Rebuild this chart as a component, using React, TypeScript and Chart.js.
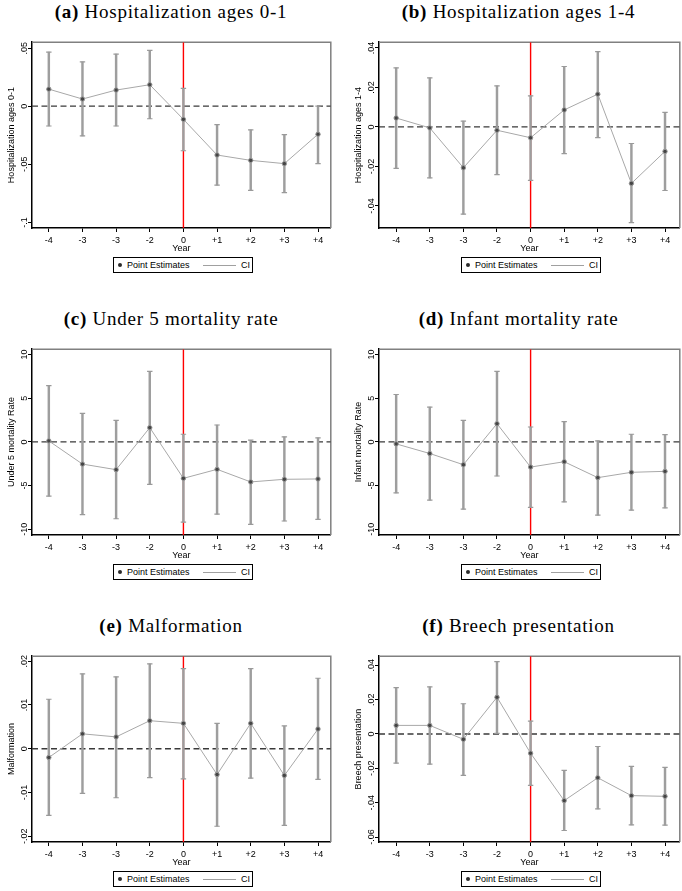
import React, { useEffect, useRef } from 'react';
import { Chart, registerables } from 'chart.js';

Chart.register(...registerables);
Chart.defaults.font.family = '"Liberation Sans", Arial, Helvetica, sans-serif';

// ---------- data ----------
const yearLabels = ['-4', '-3', '-3', '-2', '0', '+1', '+2', '+3', '+4'];

// (a) Hospitalization ages 0-1
const hospA_est = [0.0147, 0.0062, 0.0139, 0.0185, -0.0113, -0.042, -0.0466, -0.0494, -0.0241];
const hospA_lo = [-0.017, -0.0256, -0.017, -0.0108, -0.0383, -0.0679, -0.0724, -0.0744, -0.0494];
const hospA_hi = [0.0466, 0.0381, 0.0449, 0.048, 0.0153, -0.0159, -0.0204, -0.0244, 0.0];
const hospA_ticks = [-0.1, -0.05, 0, 0.05];

// (b) Hospitalization ages 1-4
const hospB_est = [0.0045, -0.0005, -0.0207, -0.0017, -0.0055, 0.0086, 0.0166, -0.0286, -0.0124];
const hospB_lo = [-0.021, -0.0258, -0.0442, -0.0242, -0.0271, -0.0135, -0.0054, -0.0485, -0.0322];
const hospB_hi = [0.0299, 0.0248, 0.0029, 0.0208, 0.0157, 0.0306, 0.0381, -0.0084, 0.0074];
const hospB_ticks = [-0.04, -0.02, 0, 0.02, 0.04];

// (c) Under 5 mortality rate
const u5_est = [0.11, -2.54, -3.18, 1.63, -4.17, -3.14, -4.58, -4.28, -4.24];
const u5_lo = [-6.2, -8.33, -8.79, -4.85, -9.17, -8.26, -9.43, -9.05, -8.86];
const u5_hi = [6.44, 3.26, 2.46, 8.07, 0.87, 1.93, 0.19, 0.57, 0.45];
const u5_ticks = [-10, -5, 0, 5, 10];

// (d) Infant mortality rate
const inf_est = [-0.23, -1.33, -2.61, 2.08, -2.88, -2.27, -4.09, -3.48, -3.37];
const inf_lo = [-5.83, -6.67, -7.69, -3.9, -7.5, -6.86, -8.37, -7.8, -7.54];
const inf_hi = [5.42, 3.98, 2.46, 8.07, 1.7, 2.31, 0.11, 0.87, 0.83];
const inf_ticks = [-10, -5, 0, 5, 10];

// (e) Malformation
const malf_est = [-0.002, 0.0034, 0.0027, 0.0064, 0.0058, -0.0059, 0.0058, -0.0061, 0.0045];
const malf_lo = [-0.0152, -0.0102, -0.0112, -0.0066, -0.0069, -0.0177, -0.0067, -0.0175, -0.007];
const malf_hi = [0.0113, 0.0171, 0.0164, 0.0194, 0.0183, 0.0058, 0.0183, 0.0052, 0.0161];
const malf_ticks = [-0.02, -0.01, 0, 0.01, 0.02];

// (f) Breech presentation
const breech_est = [0.005, 0.005, -0.0031, 0.0214, -0.0112, -0.0388, -0.0255, -0.0359, -0.0363];
const breech_lo = [-0.017, -0.0176, -0.0241, 0.0004, -0.0299, -0.0562, -0.0436, -0.0529, -0.0531];
const breech_hi = [0.027, 0.0274, 0.0176, 0.0421, 0.0075, -0.0212, -0.0073, -0.0189, -0.0195];
const breech_ticks = [-0.06, -0.04, -0.02, 0, 0.02, 0.04];

// ---------- helpers ----------
const fmtTick = (v: number): string => {
  if (Math.abs(v) < 1e-12) return '0';
  const s = String(Number(v.toFixed(6)));
  return s.replace(/^(-?)0\./, '$1.');
};

const framePlugin = {
  id: 'frame',
  beforeDatasetsDraw(chart: any) {
    const { ctx, chartArea } = chart;
    const { left, top, right, bottom } = chartArea;
    ctx.save();
    ctx.strokeStyle = '#808080';
    ctx.lineWidth = 1.5;
    ctx.beginPath();
    ctx.moveTo(left, top);
    ctx.lineTo(right, top);
    ctx.lineTo(right, bottom);
    ctx.stroke();
    ctx.restore();
  },
};

type Spec = {
  letter: string;
  title: string;
  yTitle: string;
  est: number[];
  lo: number[];
  hi: number[];
  yTicks: number[];
  yMin: number;
  yMax: number;
  tickPad: number;
  col: number;
  row: number;
};

const COLS = [
  { left: 0, plotLeft: 32, plotRight: 333, xMin: -0.5, xMax: 8.38, titleCenter: 171, titlePad: 6.5 },
  { left: 341, plotLeft: 379, plotRight: 682, xMin: -0.511, xMax: 8.44, titleCenter: 518.5, titlePad: 12 },
];
const ROWS = [
  { plotTop: 41, plotBottom: 228, titleBase: 17.5 },
  { plotTop: 348, plotBottom: 535, titleBase: 325 },
  { plotTop: 655, plotBottom: 842, titleBase: 631.7 },
];

const specs: Spec[] = [
  { letter: '(a)', title: 'Hospitalization ages 0-1', yTitle: 'Hospitalization ages 0-1', est: hospA_est, lo: hospA_lo, hi: hospA_hi, yTicks: hospA_ticks, yMin: -0.1048, yMax: 0.0551, tickPad: -4.25, col: 0, row: 0 },
  { letter: '(b)', title: 'Hospitalization ages 1-4', yTitle: 'Hospitalization ages 1-4', est: hospB_est, lo: hospB_lo, hi: hospB_hi, yTicks: hospB_ticks, yMin: -0.0512, yMax: 0.0429, tickPad: -4, col: 1, row: 0 },
  { letter: '(c)', title: 'Under 5 mortality rate', yTitle: 'Under 5 mortality Rate', est: u5_est, lo: u5_lo, hi: u5_hi, yTicks: u5_ticks, yMin: -10.65, yMax: 10.6, tickPad: -3, col: 0, row: 1 },
  { letter: '(d)', title: 'Infant mortality rate', yTitle: 'Infant mortality Rate', est: inf_est, lo: inf_lo, hi: inf_hi, yTicks: inf_ticks, yMin: -10.65, yMax: 10.6, tickPad: -3, col: 1, row: 1 },
  { letter: '(e)', title: 'Malformation', yTitle: 'Malformation', est: malf_est, lo: malf_lo, hi: malf_hi, yTicks: malf_ticks, yMin: -0.0213, yMax: 0.02113, tickPad: -4.25, col: 0, row: 2 },
  { letter: '(f)', title: 'Breech presentation', yTitle: 'Breech presentation', est: breech_est, lo: breech_lo, hi: breech_hi, yTicks: breech_ticks, yMin: -0.0629, yMax: 0.0453, tickPad: -4, col: 1, row: 2 },
];

const PAD_TOP = 4;
const PAD_RIGHT = 3;
const X_AXIS_H = 26;

function Panel({ spec }: { spec: Spec }) {
  const ref = useRef<HTMLCanvasElement>(null);
  const col = COLS[spec.col];
  const row = ROWS[spec.row];
  const cw = col.plotRight - col.left + PAD_RIGHT;
  const ch = row.plotBottom - row.plotTop + PAD_TOP + X_AXIS_H;

  useEffect(() => {
    const idx = spec.est.map((_, i) => i);
    const chart = new Chart(ref.current as HTMLCanvasElement, {
      type: 'line',
      data: {
        datasets: [
          {
            type: 'line',
            label: 'Point Estimates',
            data: idx.map((i) => ({ x: i, y: spec.est[i] })),
            borderColor: '#a8a8a8',
            borderWidth: 1,
            pointRadius: 2.2,
            pointBackgroundColor: '#454545',
            pointBorderColor: '#999999',
            pointBorderWidth: 1,
            tension: 0,
            order: 0,
          } as any,
          {
            type: 'line',
            label: 'CI caps',
            data: [
              ...idx.map((i) => ({ x: i, y: spec.lo[i] })),
              ...idx.map((i) => ({ x: i, y: spec.hi[i] })),
            ],
            showLine: false,
            pointStyle: 'line',
            pointRadius: 2.7,
            pointBorderColor: '#9a9a9a',
            pointBorderWidth: 1.2,
            order: 1,
          } as any,
          {
            type: 'bar',
            label: 'CI',
            data: idx.map((i) => ({ x: i, y: [spec.lo[i], spec.hi[i]] })),
            backgroundColor: '#9e9e9e',
            barThickness: 1.8,
            order: 2,
          } as any,
          {
            type: 'line',
            label: 'Year 0',
            data: [
              { x: 4, y: spec.yMin },
              { x: 4, y: spec.yMax },
            ],
            borderColor: '#ff0000',
            borderWidth: 1.4,
            pointRadius: 0,
            order: 3,
          } as any,
          {
            type: 'line',
            label: 'Zero',
            data: [
              { x: col.xMin, y: 0 },
              { x: col.xMax, y: 0 },
            ],
            borderColor: '#3a3a3a',
            borderWidth: 1.3,
            borderDash: [6, 3.5],
            pointRadius: 0,
            order: 4,
          } as any,
        ],
      },
      options: {
        responsive: false,
        maintainAspectRatio: false,
        animation: false,
        devicePixelRatio: 1,
        events: [],
        layout: { padding: { top: PAD_TOP, right: PAD_RIGHT, left: 0, bottom: 0 } },
        plugins: {
          legend: { display: false },
          tooltip: { enabled: false },
          title: { display: false },
        },
        scales: {
          x: {
            type: 'linear',
            min: col.xMin,
            max: col.xMax,
            offset: false,
            afterBuildTicks: (s: any) => {
              s.ticks = idx.map((v) => ({ value: v }));
            },
            afterFit: (s: any) => {
              s.height = X_AXIS_H;
            },
            ticks: {
              autoSkip: false,
              maxRotation: 0,
              minRotation: 0,
              padding: 3,
              color: '#000',
              font: { size: 9 },
              callback: (v: any) => yearLabels[Math.round(Number(v))],
            },
            grid: {
              display: true,
              offset: false,
              drawOnChartArea: false,
              drawTicks: true,
              tickLength: 4,
              tickWidth: 1,
              tickColor: '#000',
            },
            border: { display: true, color: '#000', width: 1.5 },
            title: { display: true, text: 'Year', color: '#000', font: { size: 9 }, padding: { top: 0, bottom: 0 } },
          } as any,
          y: {
            type: 'linear',
            min: spec.yMin,
            max: spec.yMax,
            afterBuildTicks: (s: any) => {
              s.ticks = spec.yTicks.map((v) => ({ value: v }));
            },
            afterFit: (s: any) => {
              s.width = col.plotLeft - col.left;
            },
            ticks: {
              autoSkip: false,
              minRotation: 90,
              maxRotation: 90,
              crossAlign: 'center',
              padding: spec.tickPad,
              color: '#000',
              font: { size: 9 },
              callback: (v: any) => fmtTick(Number(v)),
            },
            grid: {
              display: true,
              drawOnChartArea: false,
              drawTicks: true,
              tickLength: 4,
              tickWidth: 1,
              tickColor: '#000',
            },
            border: { display: true, color: '#000', width: 1.5 },
            title: {
              display: true,
              text: spec.yTitle,
              color: '#000',
              font: { size: 9 },
              padding: { top: col.titlePad, bottom: 0 },
            },
          } as any,
        },
      },
      plugins: [framePlugin],
    });
    return () => chart.destroy();
  }, []);

  const plotCenter = (col.plotLeft + col.plotRight) / 2;
  const legendLeft = plotCenter - 69.5;
  const legendTop = row.plotBottom + 29;

  return (
    <>
      <div
        style={{
          position: 'absolute',
          left: col.titleCenter - 170,
          width: 340,
          top: row.titleBase - 15.9,
          fontFamily: '"Liberation Serif", "Times New Roman", serif',
          fontSize: 19,
          lineHeight: '19px',
          textAlign: 'center',
          letterSpacing: '0.75px',
          whiteSpace: 'nowrap',
          color: '#000',
        }}
      >
        <b>{spec.letter}</b> {spec.title}
      </div>
      <canvas
        ref={ref}
        width={cw}
        height={ch}
        style={{ position: 'absolute', left: col.left, top: row.plotTop - PAD_TOP, width: cw, height: ch }}
      />
      <div
        style={{
          position: 'absolute',
          left: legendLeft,
          top: legendTop,
          width: 140,
          height: 16,
          boxSizing: 'border-box',
          border: '1px solid #000',
          background: '#fff',
          fontFamily: '"Liberation Sans", Arial, sans-serif',
          fontSize: 9,
          color: '#000',
        }}
      >
        <span style={{ position: 'absolute', left: 3.5, top: 4.5, width: 4.5, height: 4.5, borderRadius: '50%', background: '#2a2a2a' }} />
        <span style={{ position: 'absolute', left: 13, top: 0, lineHeight: '14px', whiteSpace: 'nowrap' }}>Point Estimates</span>
        <span style={{ position: 'absolute', left: 89, top: 7, width: 33, height: 1, background: '#a0a0a0' }} />
        <span style={{ position: 'absolute', left: 127, top: 0, lineHeight: '14px', whiteSpace: 'nowrap' }}>CI</span>
      </div>
    </>
  );
}

export default function App() {
  return (
    <div
      style={{
        position: 'absolute',
        left: 0,
        top: 0,
        width: 682,
        height: 891,
        overflow: 'hidden',
        background: '#fff',
      }}
    >
      {specs.map((s, i) => (
        <Panel key={i} spec={s} />
      ))}
    </div>
  );
}
